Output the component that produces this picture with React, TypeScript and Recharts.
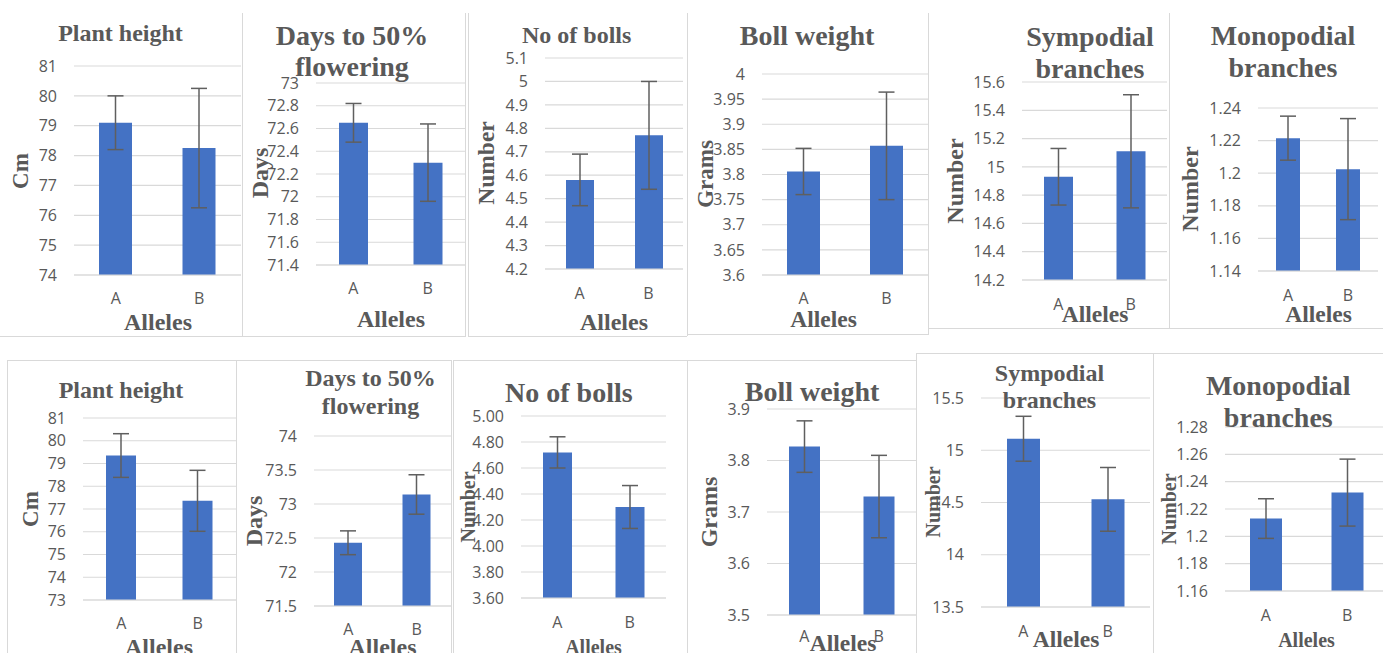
import React from "react";
import { BarChart, Bar, XAxis, YAxis, CartesianGrid, ErrorBar } from "recharts";

// ---------- DATA ----------
const alleles = ["A", "B"];

const plantHeightTop = [79.1, 78.25];
const plantHeightTopErr = [0.9, 2.0];
const plantHeightTopTicks = [74, 75, 76, 77, 78, 79, 80, 81];

const floweringTop = [72.65, 72.3];
const floweringTopErr = [0.17, 0.34];
const floweringTopTicks = [71.4, 71.6, 71.8, 72, 72.2, 72.4, 72.6, 72.8, 73];

const bollsTop = [4.58, 4.77];
const bollsTopErr = [0.11, 0.23];
const bollsTopTicks = [4.2, 4.3, 4.4, 4.5, 4.6, 4.7, 4.8, 4.9, 5, 5.1];

const bollWeightTop = [3.806, 3.857];
const bollWeightTopErr = [0.046, 0.107];
const bollWeightTopTicks = [3.6, 3.65, 3.7, 3.75, 3.8, 3.85, 3.9, 3.95, 4];

const sympodialTop = [14.93, 15.11];
const sympodialTopErr = [0.2, 0.4];
const sympodialTopTicks = [14.2, 14.4, 14.6, 14.8, 15, 15.2, 15.4, 15.6];

const monopodialTop = [1.2215, 1.2025];
const monopodialTopErr = [0.0135, 0.031];
const monopodialTopTicks = [1.14, 1.16, 1.18, 1.2, 1.22, 1.24];

const plantHeightBottom = [79.35, 77.36];
const plantHeightBottomErr = [0.96, 1.34];
const plantHeightBottomTicks = [73, 74, 75, 76, 77, 78, 79, 80, 81];

const floweringBottom = [72.43, 73.14];
const floweringBottomErr = [0.175, 0.29];
const floweringBottomTicks = [71.5, 72, 72.5, 73, 73.5, 74];

const bollsBottom = [4.72, 4.3];
const bollsBottomErr = [0.12, 0.165];
const bollsBottomTicks = [3.6, 3.8, 4.0, 4.2, 4.4, 4.6, 4.8, 5.0];

const bollWeightBottom = [3.827, 3.73];
const bollWeightBottomErr = [0.05, 0.08];
const bollWeightBottomTicks = [3.5, 3.6, 3.7, 3.8, 3.9];

const sympodialBottom = [15.11, 14.53];
const sympodialBottomErr = [0.215, 0.305];
const sympodialBottomTicks = [13.5, 14, 14.5, 15, 15.5];

const monopodialBottom = [1.213, 1.232];
const monopodialBottomErr = [0.0145, 0.0245];
const monopodialBottomTicks = [1.16, 1.18, 1.2, 1.22, 1.24, 1.26, 1.28];

const titles = [
  ["Plant height"],
  ["Days to 50%", "flowering"],
  ["No of bolls"],
  ["Boll weight"],
  ["Sympodial", "branches"],
  ["Monopodial", "branches"],
  ["Plant height"],
  ["Days to 50%", "flowering"],
  ["No of bolls"],
  ["Boll weight"],
  ["Sympodial", "branches"],
  ["Monopodial", "branches"],
];
const yLabels = ["Cm", "Days", "Number", "Grams", "Number", "Number", "Cm", "Days", "Number", "Grams", "Number", "Number"];
const xLabel = "Alleles";

const seriesValues = [
  plantHeightTop, floweringTop, bollsTop, bollWeightTop, sympodialTop, monopodialTop,
  plantHeightBottom, floweringBottom, bollsBottom, bollWeightBottom, sympodialBottom, monopodialBottom,
];
const seriesErrors = [
  plantHeightTopErr, floweringTopErr, bollsTopErr, bollWeightTopErr, sympodialTopErr, monopodialTopErr,
  plantHeightBottomErr, floweringBottomErr, bollsBottomErr, bollWeightBottomErr, sympodialBottomErr, monopodialBottomErr,
];
const seriesTicks = [
  plantHeightTopTicks, floweringTopTicks, bollsTopTicks, bollWeightTopTicks, sympodialTopTicks, monopodialTopTicks,
  plantHeightBottomTicks, floweringBottomTicks, bollsBottomTicks, bollWeightBottomTicks, sympodialBottomTicks, monopodialBottomTicks,
];
const tickDecimals = [null, null, null, null, null, null, null, null, 2, null, null, null];

// ---------- LAYOUT (pixel positions) ----------
type Layout = {
  l: number; r: number; t: number; b: number; bar: number; cat: number;
  tx: number; ty: number[]; ts: number;
  yx: number; yy: number; ys: number;
  ax: number; ay: number; as: number;
};
const layouts: Layout[] = [
  { l: 74, r: 241, t: 66, b: 275, bar: 33, cat: 23, tx: 120.5, ty: [33.3], ts: 24, yx: 20, yy: 171, ys: 23, ax: 158, ay: 322, as: 24 },
  { l: 316, r: 465, t: 83, b: 265, bar: 29, cat: 23, tx: 352, ty: [36.3, 67.2], ts: 28, yx: 259.5, yy: 173, ys: 24, ax: 391, ay: 319, as: 24 },
  { l: 545, r: 683, t: 58, b: 269, bar: 28, cat: 24, tx: 576.7, ty: [34.8], ts: 24, yx: 487, yy: 163, ys: 23.5, ax: 614, ay: 322, as: 24 },
  { l: 762, r: 928, t: 74, b: 275, bar: 33, cat: 23, tx: 807, ty: [35.8], ts: 28, yx: 705, yy: 174, ys: 23, ax: 823.5, ay: 320, as: 23.5 },
  { l: 1022, r: 1167, t: 82, b: 280, bar: 29, cat: 24, tx: 1090, ty: [37, 69], ts: 28, yx: 954.5, yy: 181, ys: 24, ax: 1095, ay: 315, as: 23.5 },
  { l: 1258, r: 1378, t: 108, b: 271, bar: 24, cat: 24, tx: 1283, ty: [36.2, 68], ts: 28, yx: 1190, yy: 189, ys: 24, ax: 1318.5, ay: 315, as: 23.5 },
  { l: 83, r: 236, t: 418, b: 600, bar: 30, cat: 23, tx: 121, ty: [390.3], ts: 24, yx: 29.5, yy: 509, ys: 23, ax: 159, ay: 647, as: 24 },
  { l: 314, r: 451, t: 436, b: 606, bar: 28, cat: 23, tx: 370.5, ty: [378.3, 405.8], ts: 24, yx: 253.5, yy: 520.7, ys: 24, ax: 382.5, ay: 647, as: 24 },
  { l: 521, r: 666, t: 416, b: 598, bar: 29, cat: 24.5, tx: 568.8, ty: [392.5], ts: 28, yx: 467.5, yy: 506.7, ys: 20, ax: 593.5, ay: 647, as: 20 },
  { l: 767, r: 916, t: 409, b: 615, bar: 31, cat: 21, tx: 812, ty: [391.7], ts: 28, yx: 708.7, yy: 511.7, ys: 24, ax: 843, ay: 644, as: 23.5 },
  { l: 981, r: 1150, t: 398, b: 607, bar: 33, cat: 24.5, tx: 1049.5, ty: [372.5, 400], ts: 24, yx: 933, yy: 502, ys: 20, ax: 1066, ay: 639.5, as: 23.5 },
  { l: 1225, r: 1388, t: 427, b: 591, bar: 32, cat: 24, tx: 1278.3, ty: [385.7, 417.7], ts: 28, yx: 1168.5, yy: 509, ys: 20, ax: 1306.5, ay: 639.5, as: 20 },
];

// panel frame lines: [x1, y1, x2, y2]
const frameLines: number[][] = [
  [0, 336, 466, 336], [242, 13, 242, 336], [465, 13, 465, 336],
  [468, 13, 468, 336], [687, 13, 687, 336], [468, 336, 687, 336],
  [687, 334, 928, 334], [928, 13, 928, 335], [928, 328, 1383, 328], [1169, 13, 1169, 328],
  [7, 360, 451, 360], [7, 360, 7, 653], [236, 360, 236, 653], [451, 360, 451, 653],
  [453, 360, 916, 360], [453, 360, 453, 653], [687, 360, 687, 653], [916, 353, 916, 653],
  [916, 353, 1383, 353], [1153, 353, 1153, 653],
];

const SERIF = '"Liberation Serif", "Times New Roman", serif';
const SANS = '"Open Sans", "Liberation Sans", sans-serif';
const TEXT = "#595959";
const GRID = "#d9d9d9";

function Label({ x, y, size, text, rotate }: { x: number; y: number; size: number; text: string; rotate?: boolean }) {
  return (
    <div
      style={{
        position: "absolute",
        left: x,
        top: y,
        transform: `translate(-50%, -50%)${rotate ? " rotate(-90deg)" : ""}`,
        fontFamily: SERIF,
        fontWeight: "bold",
        fontSize: size,
        lineHeight: 1,
        color: TEXT,
        whiteSpace: "nowrap",
      }}
    >
      {text}
    </div>
  );
}

function Panel({ idx }: { idx: number }) {
  const L = layouts[idx];
  const ticks = seriesTicks[idx];
  const dec = tickDecimals[idx];
  const YW = 60;
  const MT = 12;
  const XH = 40;
  const plotW = L.r - L.l;
  const plotH = L.b - L.t;
  const data = alleles.map((a, i) => ({ name: a, value: seriesValues[idx][i], err: seriesErrors[idx][i] }));
  const tickStyle = { fill: TEXT, fontSize: 16, fontFamily: SANS };
  return (
    <>
      <div style={{ position: "absolute", left: L.l - YW, top: L.t - MT }}>
        <BarChart width={YW + plotW} height={MT + plotH + XH} data={data} margin={{ top: MT, right: 0, left: 0, bottom: 0 }}>
          <CartesianGrid vertical={false} stroke={GRID} strokeWidth={1.2} />
          <XAxis
            dataKey="name"
            height={XH}
            interval={0}
            tickLine={false}
            tickSize={0}
            tickMargin={L.cat - 5.7}
            axisLine={{ stroke: GRID, strokeWidth: 1.2 }}
            tick={tickStyle}
          />
          <YAxis
            type="number"
            width={YW}
            domain={[ticks[0], ticks[ticks.length - 1]]}
            ticks={ticks}
            allowDataOverflow
            interval={0}
            axisLine={false}
            tickLine={false}
            tickSize={0}
            tickMargin={17}
            tick={tickStyle}
            tickFormatter={(v: number) => (dec ? v.toFixed(dec) : String(v))}
          />
          <Bar dataKey="value" fill="#4472C4" barSize={L.bar} isAnimationActive={false}>
            <ErrorBar dataKey="err" width={8} stroke="#5f5f5f" strokeWidth={1.5} direction="y" />
          </Bar>
        </BarChart>
      </div>
      {titles[idx].map((line, k) => (
        <Label key={k} x={L.tx} y={L.ty[k]} size={L.ts} text={line} />
      ))}
      <Label x={L.yx} y={L.yy} size={L.ys} text={yLabels[idx]} rotate />
      <Label x={L.ax} y={L.ay} size={L.as} text={xLabel} />
    </>
  );
}

export default function App() {
  return (
    <div
      style={{
        position: "absolute",
        left: 0,
        top: 0,
        width: 1383,
        height: 653,
        overflow: "hidden",
        background: "#ffffff",
      }}
    >
      {frameLines.map(([x1, y1, x2, y2], i) => (
        <div
          key={"f" + i}
          style={{
            position: "absolute",
            left: Math.min(x1, x2),
            top: Math.min(y1, y2),
            width: Math.max(1, Math.abs(x2 - x1)),
            height: Math.max(1, Math.abs(y2 - y1)),
            background: GRID,
          }}
        />
      ))}
      {layouts.map((_, i) => (
        <Panel key={i} idx={i} />
      ))}
    </div>
  );
}
